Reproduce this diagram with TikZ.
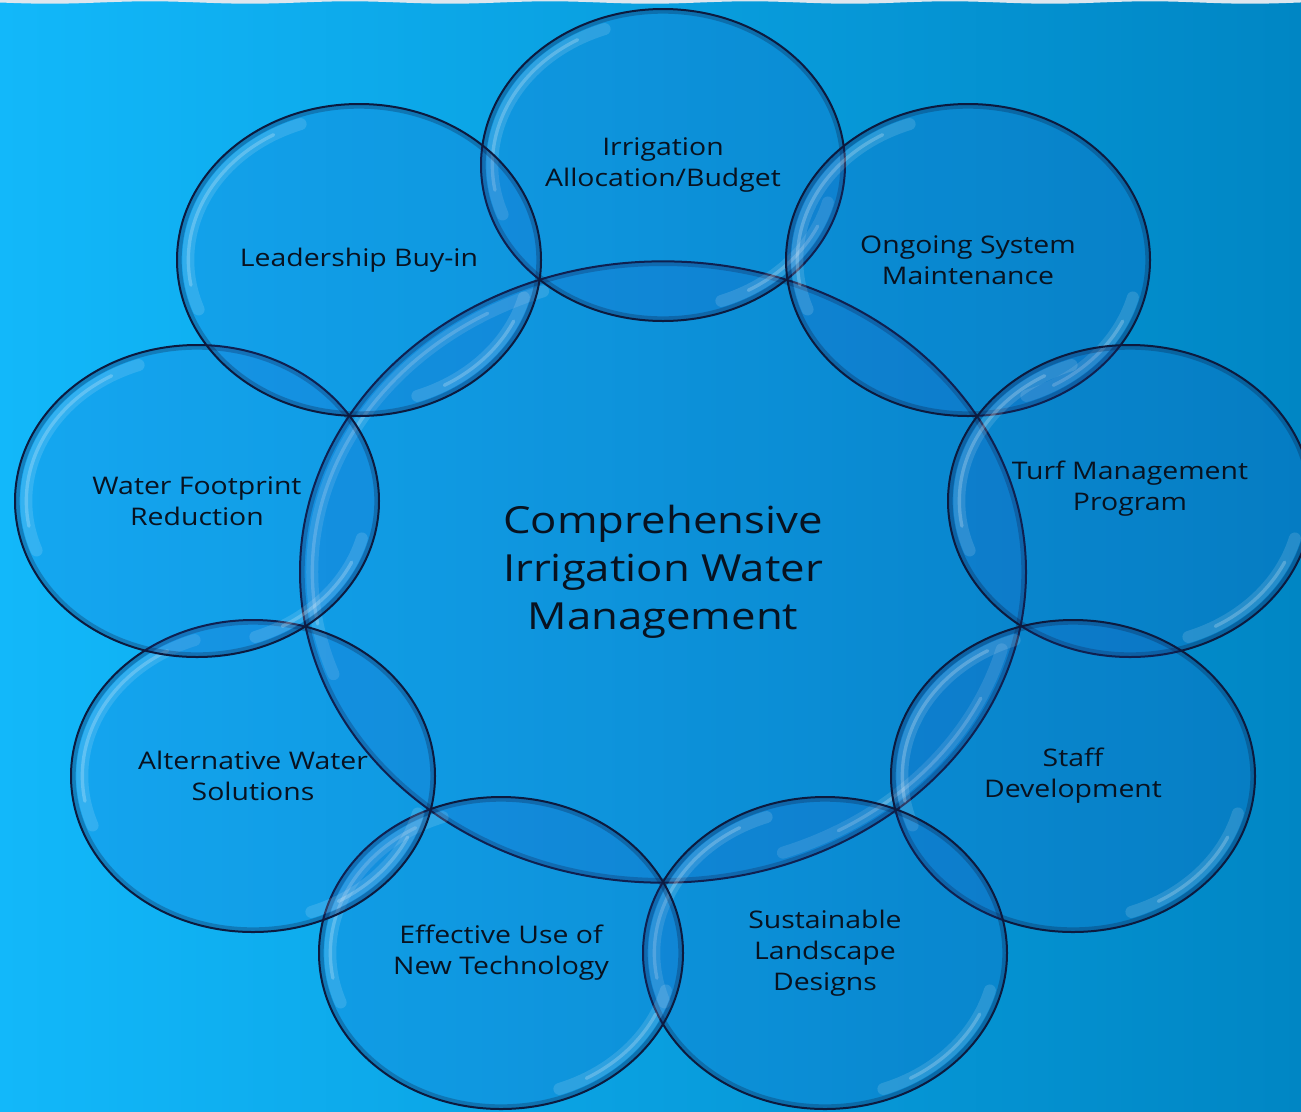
\documentclass[tikz,border=0pt]{standalone}
\usepackage{fontspec}
\setmainfont{Open Sans}[FakeStretch=1.17]
\usepackage{xcolor}
\usepackage{tikz}
\usetikzlibrary{shapes.geometric}

\definecolor{seaL}{RGB}{18,184,250}
\definecolor{seaM}{RGB}{10,168,236}
\definecolor{seaR}{RGB}{0,134,196}
\definecolor{rimnavy}{RGB}{12,26,62}
\definecolor{bubblefill}{RGB}{40,70,190}
\definecolor{labelink}{RGB}{8,18,32}
\definecolor{foam}{RGB}{222,230,238}

\begin{document}
\begin{tikzpicture}[
    x=0.75pt, y=-0.75pt,
    shine/.style n args={4}{path picture={
        \draw[rimnavy, opacity=0.28, line width=7pt] (path picture bounding box.center) ellipse [x radius=#1, y radius=#2];
        \draw[white, opacity=0.13, line width=9pt, line cap=round] (path picture bounding box.center) ++(110:#3 and #4) arc[start angle=110, end angle=200, x radius=#3, y radius=#4];
        \draw[white, opacity=0.22, line width=2.5pt, line cap=round] (path picture bounding box.center) ++(120:#3 and #4) arc[start angle=120, end angle=190, x radius=#3, y radius=#4];
        \draw[white, opacity=0.13, line width=9pt, line cap=round] (path picture bounding box.center) ++(-70:#3 and #4) arc[start angle=-70, end angle=-15, x radius=#3, y radius=#4];
        \draw[white, opacity=0.22, line width=2.5pt, line cap=round] (path picture bounding box.center) ++(-60:#3 and #4) arc[start angle=-60, end angle=-25, x radius=#3, y radius=#4];
    }},
    bubble/.style={ellipse, draw=rimnavy, line width=1.5pt, fill=bubblefill, fill opacity=0.14, text opacity=1, text=labelink,
        inner sep=0pt, align=center, minimum width=273pt, minimum height=234pt,
        font=\fontsize{18.2}{23.2}\selectfont, shine={136.5pt}{117pt}{128pt}{108.5pt}},
    hub/.style={bubble, minimum width=544.5pt, minimum height=466pt,
        font=\fontsize{28}{36}\selectfont, shine={272.25pt}{233pt}{263pt}{224pt}}
]
    \useasboundingbox (0,0) rectangle (1301,1111);

    % Background
    \shade[left color=seaL, middle color=seaM, right color=seaR] (0,0) rectangle (1301,1111);
    \fill[foam] (0,0) -- plot[domain=0:1301, samples=120, smooth] (\x, {2.5+1.2*sin(\x*1.8)}) -- (1301,0) -- cycle;

    % Nodes
    \node[hub] (core) at (663,572) {Comprehensive\\Irrigation Water\\Management};
    \node[bubble] (budget) at (663,165) {Irrigation\\Allocation/Budget};
    \node[bubble] (upkeep) at (968,260) {Ongoing System\\Maintenance};
    \node[bubble] (turf) at (1130,501) {Turf Management\\Program\\\mbox{}};
    \node[bubble] (staff) at (1073,776) {Staff\\Development};
    \node[bubble] (design) at (825,953) {Sustainable\\Landscape\\Designs};
    \node[bubble] (tech) at (501,953) {Effective Use of\\New Technology};
    \node[bubble] (altwater) at (253,776) {Alternative Water\\Solutions};
    \node[bubble] (footprint) at (197,501) {Water Footprint\\Reduction};
    \node[bubble] (leaders) at (359,260) {Leadership Buy-in};
\end{tikzpicture}
\end{document}
